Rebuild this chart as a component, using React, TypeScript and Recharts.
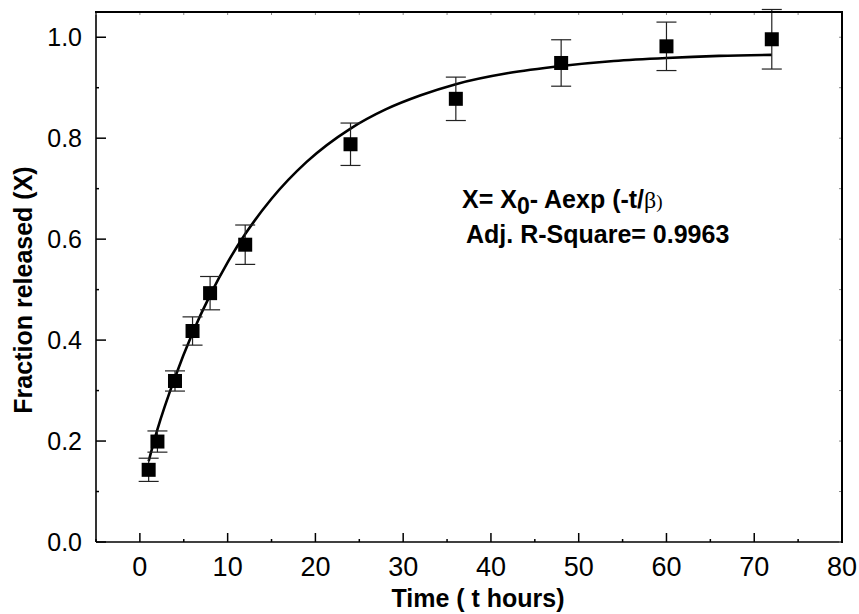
import { ComposedChart, ErrorBar, Line, Scatter, XAxis, YAxis } from "recharts";

// measured release fraction with standard deviations
const times = [1, 2, 4, 6, 8, 12, 24, 36, 48, 60, 72];
const fractions = [0.143, 0.199, 0.319, 0.418, 0.493, 0.589, 0.788, 0.878, 0.949, 0.982, 0.996];
const errors = [0.023, 0.021, 0.02, 0.028, 0.033, 0.039, 0.042, 0.043, 0.046, 0.048, 0.059];

// fitted first-order curve, sampled along t
const fitTimes = [1, 2, 4, 6, 8, 10, 12, 15, 19, 24, 28, 32, 36, 42, 48, 54, 60, 66, 72];
const fitValues = [0.16, 0.223, 0.326, 0.414, 0.489, 0.554, 0.61, 0.68, 0.753, 0.819, 0.857, 0.885, 0.907, 0.929, 0.943, 0.953, 0.959, 0.963, 0.965];

const xTicks = [-5, 0, 5, 10, 15, 20, 25, 30, 35, 40, 45, 50, 55, 60, 65, 70, 75, 80];
const yTicks = [0, 0.1, 0.2, 0.3, 0.4, 0.5, 0.6, 0.7, 0.8, 0.9, 1.0];
const xDomain = [-5, 80];
const yDomain = [0, 1.05];

const points = times.map((t, i) => ({ t, x: fractions[i], err: errors[i] }));
const fit = fitTimes.map((t, i) => ({ t, x: fitValues[i] }));

const FONT = "'Liberation Sans', Arial, Helvetica, sans-serif";
const SERIF = "'Liberation Serif', 'Times New Roman', serif";
const W = 859;
const H = 614;

// plot box
const MARGIN = { top: 12, right: 17, bottom: 0, left: 10 };
const Y_AXIS_W = 86;
const X_AXIS_H = 72;
const PLOT_LEFT = MARGIN.left + Y_AXIS_W;
const PLOT_TOP = MARGIN.top;
const PLOT_RIGHT = W - MARGIN.right;
const PLOT_BOTTOM = H - MARGIN.bottom - X_AXIS_H;

function BottomTick(props: any) {
  const { x, y, payload } = props;
  const v = payload.value;
  const major = v % 10 === 0 && v >= 0;
  return (
    <g>
      <line x1={x} x2={x} y1={y} y2={y - (major ? 9 : 3)} stroke="#000" strokeWidth={1.5} />
      {/* faint mark on the top edge */}
      <line x1={x} x2={x} y1={PLOT_TOP} y2={PLOT_TOP + 3} stroke="#888" strokeWidth={1} />
      {major && (
        <text x={x} y={y + 34} textAnchor="middle" fontSize={27} fontFamily={FONT} fill="#000">
          {v}
        </text>
      )}
    </g>
  );
}

function LeftTick(props: any) {
  const { x, y, payload } = props;
  const v = payload.value;
  const major = Math.round(v * 10) % 2 === 0;
  return (
    <g>
      <line x1={x} x2={x + (major ? 10 : 3)} y1={y} y2={y} stroke="#000" strokeWidth={1.5} />
      {/* faint mark on the right edge */}
      <line x1={PLOT_RIGHT} x2={PLOT_RIGHT - 3} y1={y} y2={y} stroke="#888" strokeWidth={1} />
      {major && (
        <text x={x - 14} y={y + 9} textAnchor="end" fontSize={25} fontFamily={FONT} fill="#000">
          {v.toFixed(1)}
        </text>
      )}
    </g>
  );
}

function Square(props: any) {
  const { cx, cy } = props;
  return <rect x={cx - 7} y={cy - 7} width={14} height={14} fill="#000" />;
}

function XTitle() {
  return (
    <text x={478} y={607} textAnchor="middle" fontSize={25} fontWeight="bold" fontFamily={FONT} fill="#000">
      Time ( t hours)
    </text>
  );
}

function YTitle() {
  return (
    <text
      transform="translate(32,290) rotate(-90)"
      textAnchor="middle"
      fontSize={25}
      fontWeight="bold"
      fontFamily={FONT}
      fill="#000"
    >
      Fraction released (X)
    </text>
  );
}

// fit equation and goodness of fit, placed inside the plot
function FitNote() {
  return (
    <g fontFamily={FONT} fill="#000">
      <text x={462} y={208} fontSize={25} fontWeight="bold">
        X= X
        <tspan dy={6} fontSize={23}>0</tspan>
        <tspan dy={-6}>- Aexp (-t/</tspan>
        <tspan fontFamily={SERIF} fontWeight="normal" fontSize={24}>β</tspan>
        <tspan fontFamily={SERIF} fontWeight="normal" fontSize={19}>)</tspan>
      </text>
      <text x={466} y={243} fontSize={25} fontWeight="bold">
        Adj. R-Square= 0.9963
      </text>
    </g>
  );
}

const frameLine = { stroke: "#000", strokeWidth: 1.6 };

export default function App() {
  return (
    <div style={{ position: "absolute", left: 0, top: 0, width: W, height: H, background: "#fff" }}>
      <ComposedChart width={W} height={H} margin={MARGIN}>
        <XAxis
          dataKey="t"
          type="number"
          domain={xDomain}
          ticks={xTicks}
          interval={0}
          allowDataOverflow
          height={X_AXIS_H}
          tickSize={0}
          tickMargin={0}
          tickLine={false}
          tick={<BottomTick />}
          axisLine={frameLine}
          label={<XTitle />}
        />
        <YAxis
          type="number"
          domain={yDomain}
          ticks={yTicks}
          interval={0}
          allowDataOverflow
          width={Y_AXIS_W}
          tickSize={0}
          tickMargin={0}
          tickLine={false}
          tick={<LeftTick />}
          axisLine={frameLine}
          label={<YTitle />}
        />
        <Line
          data={fit}
          dataKey="x"
          type="monotone"
          stroke="#000"
          strokeWidth={2.6}
          dot={false}
          activeDot={false}
          isAnimationActive={false}
        />
        <Scatter data={points} dataKey="x" shape={<Square />} isAnimationActive={false}>
          <ErrorBar dataKey="err" direction="y" width={10} stroke="#222" strokeWidth={1.2} isAnimationActive={false} />
        </Scatter>
      </ComposedChart>
      {/* box around the plot area */}
      <div
        style={{
          position: "absolute",
          left: PLOT_LEFT - 1,
          top: PLOT_TOP - 1,
          width: PLOT_RIGHT - PLOT_LEFT,
          height: PLOT_BOTTOM - PLOT_TOP,
          borderTop: "2px solid #000",
          borderRight: "2px solid #000",
          pointerEvents: "none",
        }}
      />
      <svg width={W} height={H} style={{ position: "absolute", left: 0, top: 0, pointerEvents: "none" }}>
        <FitNote />
      </svg>
    </div>
  );
}
